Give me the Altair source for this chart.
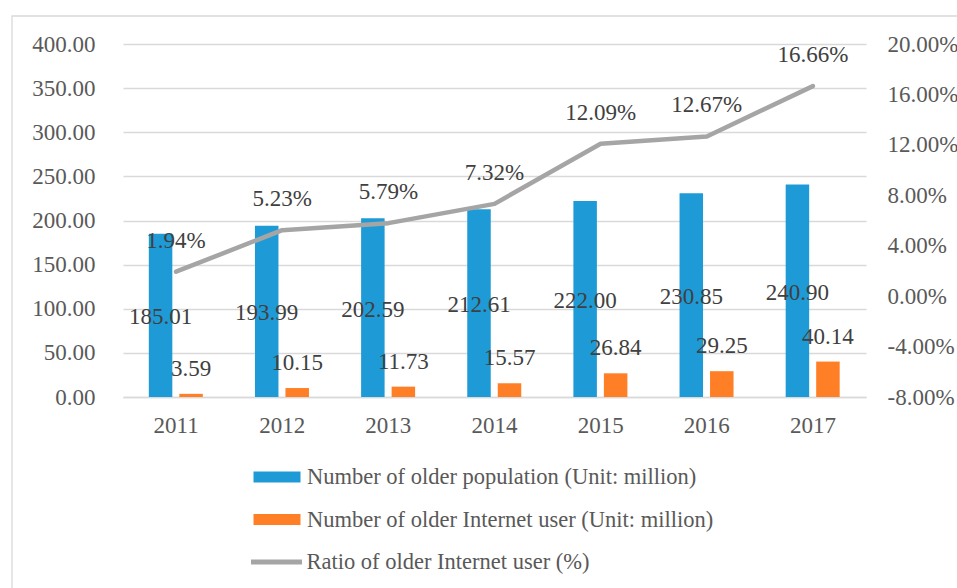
import altair as alt
import pandas as pd

years = ['2011', '2012', '2013', '2014', '2015', '2016', '2017']
older_pop = [185.01, 193.99, 202.59, 212.61, 222.00, 230.85, 240.90]
older_users = [3.59, 10.15, 11.73, 15.57, 26.84, 29.25, 40.14]
ratio = [1.94, 5.23, 5.79, 7.32, 12.09, 12.67, 16.66]

S1 = 'Number of older population (Unit: million)'
S2 = 'Number of older Internet user (Unit: million)'
S3 = 'Ratio of older Internet user (%)'

left_ticks = [0, 50, 100, 150, 200, 250, 300, 350, 400]
right_ticks = [-8, -4, 0, 4, 8, 12, 16, 20]

bars_df = pd.DataFrame({
    'year': years * 2,
    'series': [S1] * len(years) + [S2] * len(years),
    'value': older_pop + older_users,
})
line_df = pd.DataFrame({'year': years, 'ratio': ratio, 'series': [S3] * len(years)})

FONT = 'Liberation Serif'
AX_COL = '#595959'
LAB_COL = '#404040'
GRID = '#D9D9D9'
AX_FS = 23
LAB_FS = 23
LEG_FS = 22.5

x_enc = alt.X('year:N', scale=alt.Scale(paddingInner=0, paddingOuter=0),
              axis=alt.Axis(title=None, labelAngle=0, ticks=False, domainColor=GRID,
                            domainWidth=1.5, labelPadding=17.5, labelFontSize=AX_FS,
                            labelColor=AX_COL, labelFont=FONT, grid=False))

left_scale = alt.Scale(domain=[0, 400], nice=False, zero=False)
left_axis = alt.Axis(title=None, values=left_ticks, format='.2f', ticks=False, domain=False,
                     gridColor=GRID, gridWidth=1.3, labelPadding=28, labelFontSize=AX_FS,
                     labelColor=AX_COL, labelFont=FONT)
right_scale = alt.Scale(domain=[-8, 20], nice=False, zero=False)
right_axis = alt.Axis(title=None, orient='right', values=right_ticks,
                      labelExpr="replace(format(datum.value, '.2f'), '\u2212', '-') + '%'",
                      ticks=False, domain=False, grid=False, labelPadding=21, labelFontSize=AX_FS,
                      labelColor=AX_COL, labelFont=FONT)

color_enc = alt.Color('series:N', scale=alt.Scale(domain=[S1, S2], range=['#1E9BD7', '#FF7F27']),
                      legend=alt.Legend(title=None, orient='none', legendX=142, legendY=421,
                                        direction='vertical', symbolType='M-2,-0.46H2V0.46H-2Z',
                                        symbolSize=552, symbolStrokeWidth=0, labelFont=FONT,
                                        labelFontSize=LEG_FS, labelColor=AX_COL, labelLimit=0,
                                        rowPadding=18.5, labelOffset=18))

base_bars = alt.Chart(bars_df)
blue = base_bars.transform_filter(alt.datum.series == S1).mark_bar(width=23.5, xOffset=-15.5).encode(
    x=x_enc, y=alt.Y('value:Q', scale=left_scale, axis=left_axis), color=color_enc)
orange = base_bars.transform_filter(alt.datum.series == S2).mark_bar(width=23.5, xOffset=15).encode(
    x=x_enc, y=alt.Y('value:Q', scale=left_scale, axis=left_axis), color=color_enc)

blue_txt = base_bars.transform_filter(alt.datum.series == S1).transform_calculate(
    mid='datum.value / 2').mark_text(xOffset=-15.5, dy=2, baseline='middle', font=FONT,
                                     fontSize=LAB_FS, color=LAB_COL).encode(
    x=x_enc, y=alt.Y('mid:Q', scale=left_scale, axis=left_axis),
    text=alt.Text('value:Q', format='.2f'))
orange_txt = base_bars.transform_filter(alt.datum.series == S2).mark_text(
    xOffset=15, dy=-25, baseline='middle', font=FONT, fontSize=LAB_FS, color=LAB_COL).encode(
    x=x_enc, y=alt.Y('value:Q', scale=left_scale, axis=left_axis),
    text=alt.Text('value:Q', format='.2f'))

left = alt.layer(blue, orange, blue_txt, orange_txt)

line = alt.Chart(line_df).mark_line(strokeWidth=4.5, strokeCap='round', strokeJoin='round').encode(
    x=x_enc, y=alt.Y('ratio:Q', scale=right_scale, axis=right_axis),
    stroke=alt.Stroke('series:N', scale=alt.Scale(domain=[S3], range=['#A5A5A5']),
                      legend=alt.Legend(title=None, orient='none', legendX=138, legendY=502.5,
                                        symbolType='M-2,0H2', symbolSize=650,
                                        symbolStrokeWidth=5, labelFont=FONT, labelFontSize=LEG_FS,
                                        labelColor=AX_COL, labelLimit=0, labelOffset=14.5)))
line_txt = alt.Chart(line_df).transform_calculate(
    label="format(datum.ratio, '.2f') + '%'").mark_text(
    dy=-31, baseline='middle', font=FONT, fontSize=LAB_FS, color=LAB_COL).encode(
    x=x_enc, y=alt.Y('ratio:Q', scale=right_scale, axis=right_axis), text='label:N')

right = alt.layer(line, line_txt)

frame = alt.Chart(pd.DataFrame({'k': [0]})).mark_rect(fillOpacity=0, stroke=GRID, strokeWidth=1.3).encode(
    x=alt.value(-111), x2=alt.value(850), y=alt.value(-28), y2=alt.value(560))

chart = alt.layer(frame, left, right).resolve_scale(y='independent').properties(
    width=743, height=353,
    padding={'left': 123, 'top': 44, 'right': 91, 'bottom': 191},
    autosize=alt.AutoSizeParams(type='none'),
    background='white',
).configure_view(stroke=None)

chart.save('out.html', embed_options={'renderer': 'svg', 'actions': False})
